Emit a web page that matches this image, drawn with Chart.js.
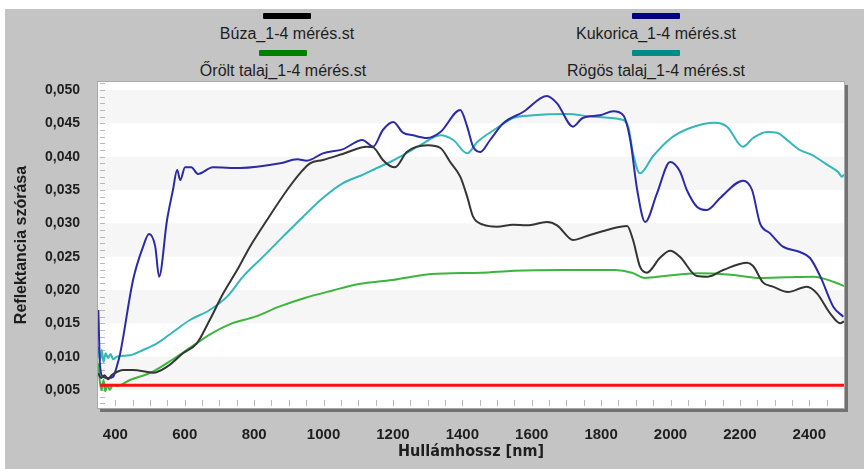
<!DOCTYPE html>
<html>
<head>
<meta charset="utf-8">
<script src="https://cdn.jsdelivr.net/npm/chart.js@4"></script>
<style>
  body { margin: 0; background: #fff; }
  #panel { position: absolute; left: 5px; top: 9px; width: 859px; height: 460px; background: #c4c4c4; }
  #wrap { position: absolute; left: 0; top: 0; width: 864px; height: 469px; }
  .leg { position: absolute; width: 260px; text-align: center; font: 16px "Liberation Sans", Arial, sans-serif; color: #1e1e1e; line-height: 18px; }
  .bar { width: 48px; height: 6px; margin: 0 auto 6px; border-radius: 1px; }
</style>
</head>
<body>
<div id="panel"></div>
<div class="leg" style="left:157px;top:13px"><div class="bar" style="background:#000"></div>Búza_1-4 mérés.st</div>
<div class="leg" style="left:526px;top:13px"><div class="bar" style="background:#000080"></div>Kukorica_1-4 mérés.st</div>
<div class="leg" style="left:153px;top:50px"><div class="bar" style="background:#008000"></div>Őrölt talaj_1-4 mérés.st</div>
<div class="leg" style="left:526px;top:50px"><div class="bar" style="background:#008b8b"></div>Rögös talaj_1-4 mérés.st</div>
<div id="wrap"><canvas id="chart" width="864" height="469"></canvas></div>
<script>
const xTicks = [400, 600, 800, 1000, 1200, 1400, 1600, 1800, 2000, 2200, 2400];
const yTicks = [0.005, 0.010, 0.015, 0.020, 0.025, 0.030, 0.035, 0.040, 0.045, 0.050];

// Búza
const buzaNm  = [351, 359, 369, 379, 389, 404, 422, 451, 509, 549, 595, 635, 672, 711, 751, 788, 837, 895, 932, 961,
                 998, 1055, 1125, 1143, 1171, 1192, 1206, 1240, 1300, 1337, 1365, 1394, 1414, 1431, 1460, 1500, 1546,
                 1586, 1644, 1673, 1719, 1759, 1817, 1875, 1892, 1912, 1932, 1969, 1999, 2027, 2076, 2108, 2152, 2221,
                 2238, 2267, 2295, 2338, 2393, 2422, 2460, 2489, 2500];
const buzaVal = [0.0075, 0.0068, 0.0072, 0.0066, 0.0072, 0.0077, 0.0080, 0.0080, 0.0076, 0.0085, 0.0105, 0.0120,
                 0.0155, 0.0195, 0.0230, 0.0265, 0.0305, 0.0350, 0.0375, 0.0390, 0.0395, 0.0404, 0.0415, 0.0414,
                 0.0395, 0.0386, 0.0384, 0.0407, 0.0417, 0.0413, 0.0392, 0.0370, 0.0340, 0.0310, 0.0298, 0.0295,
                 0.0298, 0.0297, 0.0302, 0.0297, 0.0275, 0.0281, 0.0290, 0.0296, 0.0275, 0.0235, 0.0226, 0.0248,
                 0.0259, 0.0250, 0.0221, 0.0220, 0.0230, 0.0241, 0.0236, 0.0211, 0.0205, 0.0197, 0.0205, 0.0195,
                 0.0165, 0.0150, 0.0153];

// Kukorica
const kukNm  = [351, 356, 364, 379, 394, 404, 414, 451, 480, 497, 515, 526, 549, 566, 578, 587, 601, 619, 638, 681,
                760, 875, 924, 952, 998, 1055, 1112, 1143, 1171, 1201, 1229, 1258, 1298, 1337, 1394, 1414, 1431,
                1452, 1480, 1518, 1575, 1644, 1673, 1719, 1747, 1797, 1835, 1864, 1884, 1904, 1927, 1961, 1999,
                2027, 2047, 2076, 2105, 2143, 2209, 2235, 2258, 2287, 2324, 2373, 2402, 2432, 2469, 2498];
const kukVal = [0.0170, 0.0085, 0.0070, 0.0068, 0.0070, 0.0085, 0.0105, 0.0215, 0.0265, 0.0284, 0.0265, 0.0220,
                0.0305, 0.0350, 0.0380, 0.0365, 0.0384, 0.0384, 0.0374, 0.0384, 0.0383, 0.0390, 0.0396, 0.0394,
                0.0405, 0.0411, 0.0425, 0.0415, 0.0440, 0.0452, 0.0436, 0.0432, 0.0428, 0.0437, 0.0470, 0.0445,
                0.0415, 0.0407, 0.0425, 0.0450, 0.0467, 0.0491, 0.0480, 0.0445, 0.0458, 0.0462, 0.0468, 0.0462,
                0.0425, 0.0350, 0.0302, 0.0345, 0.0392, 0.0378, 0.0350, 0.0325, 0.0320, 0.0338, 0.0364, 0.0350,
                0.0300, 0.0285, 0.0265, 0.0257, 0.0248, 0.0220, 0.0175, 0.0160];

// Őrölt talaj
const orNm  = [351, 356, 361, 366, 371, 377, 384, 392, 404, 442, 506, 563, 620, 678, 736, 803, 872, 946, 1024, 1102,
               1198, 1310, 1454, 1549, 1694, 1840, 1889, 1926, 1984, 2078, 2174, 2258, 2336, 2413, 2471, 2500];
const orVal = [0.0090, 0.0060, 0.0050, 0.0065, 0.0048, 0.0058, 0.0050, 0.0058, 0.0056, 0.0065, 0.0077, 0.0095,
               0.0115, 0.0135, 0.0150, 0.0160, 0.0175, 0.0188, 0.0199, 0.0209, 0.0215, 0.0224, 0.0226, 0.0229,
               0.0230, 0.0230, 0.0226, 0.0218, 0.0221, 0.0225, 0.0223, 0.0218, 0.0219, 0.0220, 0.0212, 0.0206];

// Rögös talaj
const rogNm  = [351, 356, 361, 366, 372, 379, 386, 394, 404, 442, 480, 520, 566, 615, 672, 722, 768, 826, 883, 941,
                998, 1055, 1114, 1154, 1192, 1221, 1278, 1337, 1374, 1414, 1443, 1500, 1546, 1603, 1702, 1777,
                1855, 1878, 1892, 1912, 1950, 1999, 2056, 2129, 2163, 2209, 2238, 2278, 2307, 2336, 2373, 2410,
                2451, 2483, 2494, 2500];
const rogVal = [0.0115, 0.0095, 0.0110, 0.0092, 0.0105, 0.0098, 0.0104, 0.0096, 0.0100, 0.0102, 0.0110, 0.0120,
                0.0137, 0.0155, 0.0170, 0.0190, 0.0220, 0.0250, 0.0280, 0.0310, 0.0338, 0.0360, 0.0373, 0.0383,
                0.0392, 0.0400, 0.0417, 0.0432, 0.0425, 0.0405, 0.0422, 0.0443, 0.0458, 0.0462, 0.0464, 0.0460,
                0.0456, 0.0445, 0.0405, 0.0375, 0.0401, 0.0427, 0.0443, 0.0451, 0.0445, 0.0415, 0.0428, 0.0437,
                0.0436, 0.0425, 0.0410, 0.0402, 0.0388, 0.0377, 0.0370, 0.0373];

// red reference line
const refNm  = [356, 2500];
const refVal = [0.0057, 0.0057];

const pts = (xs, ys) => xs.map((x, i) => ({ x, y: ys[i] }));

const frame = {
  id: 'frame',
  beforeDatasetsDraw(chart) {
    const { ctx, chartArea: a, scales: { x, y } } = chart;
    ctx.save();
    ctx.fillStyle = '#fff';
    ctx.fillRect(a.left, a.top, a.width, a.height);
    ctx.fillStyle = '#f6f6f6';
    for (let i = 0; i + 1 < yTicks.length; i += 2) {
      const t = y.getPixelForValue(yTicks[i + 1]);
      const b = y.getPixelForValue(yTicks[i]);
      ctx.fillRect(a.left, t, a.width, b - t);
    }
    ctx.strokeStyle = '#b8b8b8';
    ctx.lineWidth = 1;
    ctx.beginPath();
    for (let v = 400; v <= 2500; v += 50) {
      const px = Math.round(x.getPixelForValue(v)) + 0.5;
      ctx.moveTo(px, a.bottom - 2); ctx.lineTo(px, a.bottom - 8);
    }
    for (let k = 3; k <= 51; k++) {
      const py = Math.round(y.getPixelForValue(k / 1000)) + 0.5;
      ctx.moveTo(a.left + 2, py); ctx.lineTo(a.left + 7, py);
    }
    ctx.stroke();
    ctx.restore();
  },
  afterDraw(chart) {
    const { ctx, chartArea: a } = chart;
    ctx.save();
    ctx.fillStyle = '#727272';
    ctx.fillRect(a.right, a.top + 3, 4, a.height + 1);
    ctx.fillRect(a.left + 2, a.bottom, a.width + 2, 4);
    ctx.strokeStyle = '#a8a8a8';
    ctx.strokeRect(a.left - 0.5, a.top - 0.5, a.width + 1, a.height + 1);
    ctx.restore();
  }
};

const line = (data, color, w) => ({
  data, borderColor: color, borderWidth: w, pointRadius: 0,
  cubicInterpolationMode: 'monotone', fill: false
});

new Chart(document.getElementById('chart'), {
  type: 'line',
  data: {
    datasets: [
      line(pts(refNm, refVal), '#ff1010', 3),
      line(pts(buzaNm, buzaVal), '#353535', 2),
      line(pts(kukNm, kukVal), '#2b2ba8', 2),
      line(pts(orNm, orVal), '#3cb53c', 2),
      line(pts(rogNm, rogVal), '#35b6b8', 2),
    ],
  },
  plugins: [frame],
  options: {
    responsive: false,
    animation: false,
    layout: { padding: { top: 82, right: 20, left: 0, bottom: 0 } },
    plugins: { legend: { display: false }, tooltip: { enabled: false } },
    scales: {
      x: {
        type: 'linear', min: 350, max: 2500,
        afterBuildTicks: s => { s.ticks = xTicks.map(v => ({ value: v })); },
        afterFit: s => { s.height = 61; },
        grid: { display: false }, border: { display: false },
        ticks: { padding: 10, color: '#1e1e1e', callback: v => String(v),
                 font: { family: 'Liberation Sans', size: 15, weight: 'bold' } },
        title: { display: true, text: 'Hullámhossz [nm]', color: '#1e1e1e', padding: { top: 0, bottom: 8 },
                 font: { family: 'DejaVu Sans Condensed', size: 16, weight: 'bold' } },
      },
      y: {
        min: 0.0023, max: 0.0512,
        afterBuildTicks: s => { s.ticks = yTicks.map(v => ({ value: v })); },
        afterFit: s => { s.width = 98; },
        grid: { display: false }, border: { display: false },
        ticks: { padding: 10, color: '#1e1e1e', callback: v => v.toFixed(3).replace('.', ','),
                 font: { family: 'Liberation Sans', size: 14, weight: 'bold' } },
        title: { display: true, text: 'Reflektancia szórása', color: '#1e1e1e', padding: { top: 12, bottom: 0 },
                 font: { family: 'Liberation Sans', size: 16, weight: 'bold' } },
      },
    },
  },
});
</script>
</body>
</html>
